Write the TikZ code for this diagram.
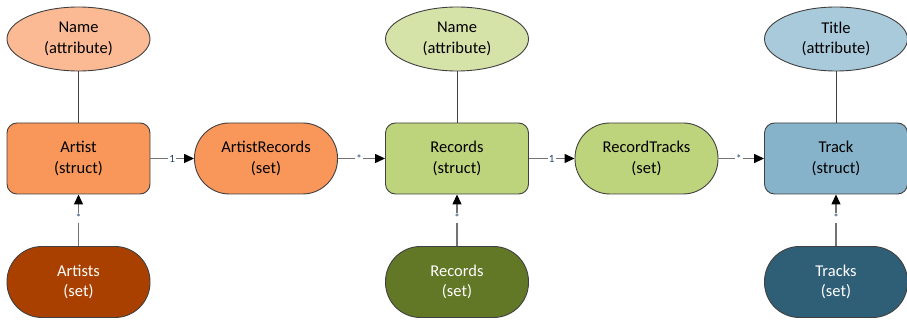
\documentclass[tikz,border=0pt]{standalone}
\usepackage{fontspec}
\setmainfont{Carlito}
\usetikzlibrary{shapes.geometric,arrows.meta}
\definecolor{oL}{HTML}{FBBA94}
\definecolor{oM}{HTML}{F9975B}
\definecolor{oD}{HTML}{A94000}
\definecolor{gL}{HTML}{D5E3A9}
\definecolor{gM}{HTML}{BDD47C}
\definecolor{gD}{HTML}{627826}
\definecolor{bL}{HTML}{A9CADB}
\definecolor{bM}{HTML}{86B3CA}
\definecolor{bD}{HTML}{2F5F77}
\definecolor{edge}{HTML}{404040}
\definecolor{lbl}{HTML}{1F3F6F}
\newcommand{\mystar}{\raisebox{-0.3em}{*}}
\tikzset{
  base/.style={draw=edge, line width=0.9pt, minimum width=143pt, minimum height=71pt, inner sep=0pt, align=center, font=\fontsize{16.5}{20.5}\selectfont},
  attr/.style={base, ellipse, minimum height=64pt},
  struct/.style={base, rectangle, rounded corners=10pt},
  setbox/.style={base, rectangle, rounded corners=35pt},
  link/.style={draw=edge, line width=0.9pt},
  rel/.style={draw=gray!90!black, line width=1.3pt, -{Triangle[length=10pt,width=9pt,fill=black,color=black]}},
  card/.style={fill=white, inner sep=1pt, text=lbl, font=\fontsize{11}{11}\selectfont}
}
\begin{document}
\begin{tikzpicture}[x=1pt,y=-1pt]
\useasboundingbox (0,0) rectangle (907,320);
% left
\node[attr, fill=oL] (name1) at (78.5,39) {Name\\(attribute)};
\node[struct, fill=oM] (artist) at (78.5,158.5) {Artist\\(struct)};
\node[setbox, fill=oD, text=white] (artists) at (78.5,282) {Artists\\(set)};
\node[setbox, fill=oM] (artrec) at (266,158.5) {ArtistRecords\\(set)};
% middle
\node[attr, fill=gL] (name2) at (457,39) {Name\\(attribute)};
\node[struct, fill=gM] (records) at (457,158.5) {Records\\(struct)};
\node[setbox, fill=gD, text=white] (recordsset) at (457,282) {Records\\(set)};
\node[setbox, fill=gM] (rectr) at (646.5,158.5) {RecordTracks\\(set)};
% right
\node[attr, fill=bL] (title) at (836,39) {Title\\(attribute)};
\node[struct, fill=bM] (track) at (836,158.5) {Track\\(struct)};
\node[setbox, fill=bD, text=white] (tracks) at (836,282) {Tracks\\(set)};
% links
\draw[link] (name1) -- (artist);
\draw[link] (name2) -- (records);
\draw[link] (title) -- (track);
% relations
\draw[rel] (artist) -- node[card, pos=0.5] {1} (artrec);
\draw[rel] (artrec) -- node[card, pos=0.45] {\mystar} (records);
\draw[rel] (records) -- node[card, pos=0.5] {1} (rectr);
\draw[rel] (rectr) -- node[card, pos=0.45] {\mystar} (track);
\draw[rel] (artists) -- node[card, pos=0.55] {\mystar} (artist);
\draw[rel] (recordsset) -- node[card, pos=0.55] {\mystar} (records);
\draw[rel] (tracks) -- node[card, pos=0.55] {\mystar} (track);
\end{tikzpicture}
\end{document}
